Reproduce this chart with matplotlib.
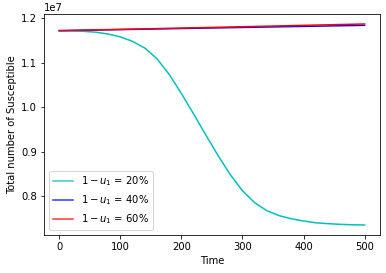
import matplotlib
matplotlib.use("Agg")
import matplotlib.pyplot as plt

# ---------------------------------------------------
# Values (units of 1e7)
time = [0, 20, 40, 60, 80, 100, 120, 140, 160, 180, 200, 220, 240,
        260, 280, 300, 320, 340, 360, 380, 400, 420, 440, 460, 480, 500]

s_20 = [1.172, 1.1715, 1.1705, 1.1685, 1.1645, 1.158, 1.148, 1.133, 1.109,
        1.074, 1.031, 0.985, 0.938, 0.892, 0.849, 0.813, 0.786, 0.768,
        0.757, 0.750, 0.745, 0.741, 0.739, 0.7375, 0.7365, 0.736]

time_flat = [0, 250, 500]
s_40 = [1.172, 1.178, 1.184]
s_60 = [1.172, 1.1793, 1.187]

labels = [r"$1-u_1$ = 20%", r"$1-u_1$ = 40%", r"$1-u_1$ = 60%"]

# ---------------------------------------------------
fig = plt.figure(figsize=(386 / 72, 273 / 72), dpi=72)
ax = fig.add_axes([0.114, 0.139, 0.870, 0.810])

ax.plot(time, [v * 1e7 for v in s_20], color="c", label=labels[0])
ax.plot(time_flat, [v * 1e7 for v in s_40], color="b", label=labels[1])
ax.plot(time_flat, [v * 1e7 for v in s_60], color="r", label=labels[2])

ax.set_xlabel("Time")
ax.set_ylabel("Total number of Susceptible")
leg = ax.legend(loc="lower left")
for h in leg.legend_handles:
    h.set_alpha(0.8)

fig.savefig("out.png", dpi=72)
